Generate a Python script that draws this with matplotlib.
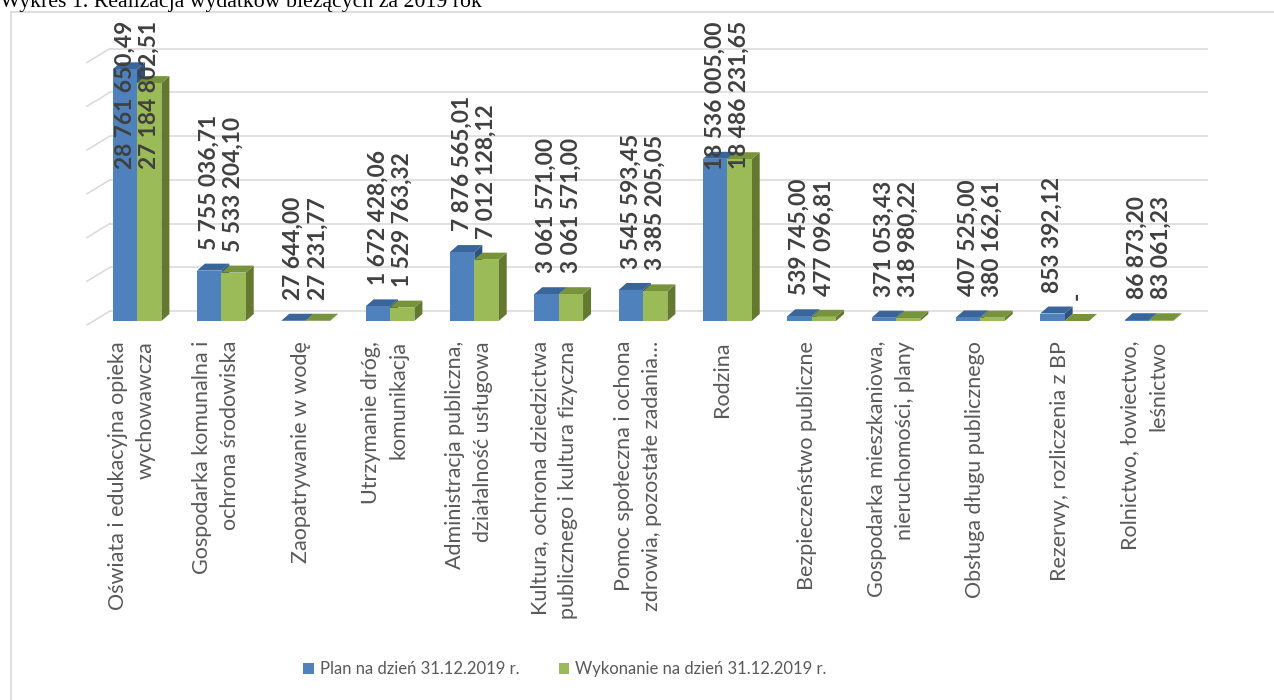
import matplotlib
matplotlib.use("Agg")
import matplotlib.pyplot as plt
from matplotlib.patches import Polygon, Rectangle
from matplotlib.lines import Line2D
import matplotlib.transforms as mtransforms

# ---------------- data ----------------
title = "Wykres 1. Realizacja wydatków bieżących za 2019 rok"
categories = [
    "Oświata i edukacyjna opieka\nwychowawcza",
    "Gospodarka komunalna i\nochrona środowiska",
    "Zaopatrywanie w wodę",
    "Utrzymanie dróg,\nkomunikacja",
    "Administracja publiczna,\ndziałalność usługowa",
    "Kultura, ochrona dziedzictwa\npublicznego i kultura fizyczna",
    "Pomoc społeczna i ochona\nzdrowia, pozostałe zadania…",
    "Rodzina",
    "Bezpieczeństwo publiczne",
    "Gospodarka mieszkaniowa,\nnieruchomości, plany",
    "Obsługa długu publicznego",
    "Rezerwy, rozliczenia z BP",
    "Rolnictwo, łowiectwo,\nleśnictwo",
]
plan = [28761650.49, 5755036.71, 27644.00, 1672428.06, 7876565.01, 3061571.00,
        3545593.45, 18536005.00, 539745.00, 371053.43, 407525.00, 853392.12, 86873.20]
wykonanie = [27184802.51, 5533204.10, 27231.77, 1529763.32, 7012128.12, 3061571.00,
             3385205.05, 18486231.65, 477096.81, 318980.22, 380162.61, 0.0, 83061.23]
series_names = ["Plan na dzień 31.12.2019 r.", "Wykonanie na dzień 31.12.2019 r."]
grid_values = [0, 5e6, 10e6, 15e6, 20e6, 25e6, 30e6]

# ---------------- style ----------------
BLUE = ("#4F81BD", "#3A659B", "#2F5380")    # front, top, side
GREEN = ("#9BBB59", "#77933C", "#62792F")
GRID = "#D9D9D9"
LABEL_C = "#404040"
CAT_C = "#595959"
SANS = "Lato"

W, H, DPI = 1274, 700, 100
fig = plt.figure(figsize=(W / DPI, H / DPI), dpi=DPI)
fig.patch.set_facecolor("white")

left_px, right_px = 87, 1208
base_px, top_px = 321, 21
ax = fig.add_axes([left_px / W, 1 - base_px / H, (right_px - left_px) / W, (base_px - top_px) / H])
ax.axis("off")

x0_px, step_px = 137.0, 84.33
py_per_val = 8.75e-6
xmin = (left_px - x0_px) / step_px
xmax = (right_px - x0_px) / step_px
ax.set_xlim(xmin, xmax)
ax.set_ylim(0, (base_px - top_px) / py_per_val)


def px2x(p):
    return p / step_px


def px2y(p):
    return p / py_per_val


# back wall gridlines + left side diagonals
xb0 = xmin + px2x(23)
for v in grid_values:
    ax.plot([xb0, xmax], [v + px2y(10)] * 2, color=GRID, lw=1.1, clip_on=False, zorder=1,
            solid_capstyle="butt")
    ax.plot([xmin, xb0], [v - px2y(4), v + px2y(10)], color=GRID, lw=1.1, clip_on=False, zorder=1)

# bars
w = px2x(24.4)
dx, dy = px2x(8), px2y(7)
xs = list(range(len(categories)))


def bar3d(xl, h, cols, z):
    front, top, side = cols
    ax.add_patch(Polygon([(xl + w, 0), (xl + w + dx, dy), (xl + w + dx, h + dy), (xl + w, h)],
                         closed=True, fc=side, ec="none", zorder=z, clip_on=False))
    ax.add_patch(Polygon([(xl, h), (xl + w, h), (xl + w + dx, h + dy), (xl + dx, h + dy)],
                         closed=True, fc=top, ec="none", zorder=z, clip_on=False))


for i in xs:
    bar3d(i - w, plan[i], BLUE, 2)
    bar3d(i, wykonanie[i], GREEN, 4)
ax.bar([i - w / 2 for i in xs], plan, width=w, color=BLUE[0], zorder=3, linewidth=0)
ax.bar([i + w / 2 for i in xs], wykonanie, width=w, color=GREEN[0], zorder=5, linewidth=0)


def fmt(v):
    if v == 0:
        return "-"
    s = f"{v:,.2f}"
    return s.replace(",", " ").replace(".", ",")


lab_trans = mtransforms.offset_copy(ax.transData, fig=fig, x=0, y=21, units="dots")
labels = []
for i in xs:
    for xc, v in ((i - w / 2, plan[i]), (i + w / 2, wykonanie[i])):
        t = ax.text(xc, v, fmt(v), rotation=90, ha="center", va="bottom", transform=lab_trans,
                    fontsize=16.4, fontweight="bold", color=LABEL_C, family=SANS, zorder=10,
                    clip_on=False)
        labels.append((t, xc))

# category labels
cat_trans = mtransforms.offset_copy(ax.transData, fig=fig, x=-5, y=-20, units="dots")
for i, c in zip(xs, categories):
    ax.text(i, 0, c, rotation=90, ha="center", va="top", multialignment="right",
            transform=cat_trans, fontsize=15.5, color=CAT_C, family=SANS, linespacing=1.5)

# legend
handles = [Rectangle((0, 0), 1, 1, fc=BLUE[0], ec="none"),
           Rectangle((0, 0), 1, 1, fc=GREEN[0], ec="none")]
leg = fig.legend(handles, series_names, loc="center", bbox_to_anchor=(565 / W, 1 - 669 / H),
                 ncol=2, frameon=False, handlelength=0.65, handleheight=0.65, handletextpad=0.35,
                 columnspacing=2.35, prop={"family": SANS, "size": 12})
for t in leg.get_texts():
    t.set_color(CAT_C)

# title and chart-area frame
fig.text(0.0, 1 - 7 / H, title, ha="left", va="baseline", fontsize=15.7, family="Liberation Serif",
         color="black")
fig.add_artist(Line2D([11 / W, 11 / W], [0, 1 - 12 / H], transform=fig.transFigure, color=GRID, lw=1.2))
fig.add_artist(Line2D([11 / W, 1], [1 - 12 / H, 1 - 12 / H], transform=fig.transFigure, color=GRID, lw=1.2))

# keep tall labels inside the plot area (like the original)
fig.canvas.draw()
renderer = fig.canvas.get_renderer()
limit = H - top_px
for t, xc in labels:
    bb = t.get_window_extent(renderer)
    if bb.y1 > limit:
        t.set_transform(ax.get_xaxis_transform())
        t.set_position((xc, 1.0))
        t.set_va("top")

fig.savefig("out.png", dpi=DPI, facecolor="white")
